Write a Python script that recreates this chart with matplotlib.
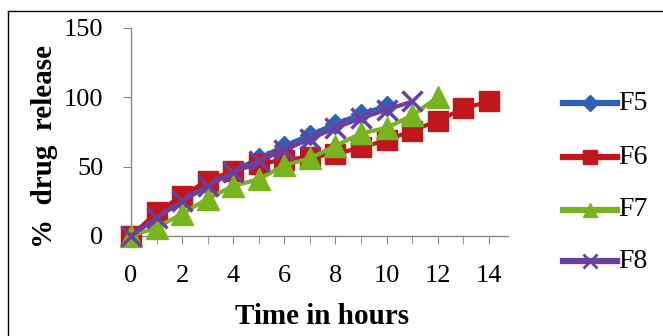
import matplotlib
matplotlib.use("Agg")
import matplotlib.pyplot as plt
from matplotlib.lines import Line2D

t5 = [0, 1, 2, 3, 4, 5, 6, 7, 8, 9, 10]
f5 = [0, 14, 26, 37, 47, 56, 65, 73, 81, 88, 94]
t6 = [0, 1, 2, 3, 4, 5, 6, 7, 8, 9, 10, 11, 12, 13, 14]
f6 = [0, 17, 29, 40, 47, 52, 55, 57, 59, 64, 69, 76, 83, 92, 97]
t7 = [0, 1, 2, 3, 4, 5, 6, 7, 8, 9, 10, 11, 12]
f7 = [0, 6, 16, 27, 36, 41, 51, 56, 65, 74, 78, 87, 100]
t8 = [0, 1, 2, 3, 4, 5, 6, 7, 8, 9, 10, 11]
f8 = [0, 13, 25, 36, 46, 54, 62, 70, 78, 85, 91, 97]

labels = ["F5", "F6", "F7", "F8"]
colors = ["#2E62B8", "#C0171C", "#78B41E", "#6B3FA0"]
markers = ["D", "s", "^", "x"]
msizes = [10, 15, 16, 14]
leg_msizes = [8, 10, 10, 10]

W, H = 663, 336
fig = plt.figure(figsize=(W / 100, H / 100), dpi=100)
# figure frame (top and left edges visible)
fig.add_artist(Line2D([8 / W, 1], [1 - 11 / H, 1 - 11 / H], transform=fig.transFigure,
                      color="black", linewidth=1.0))
fig.add_artist(Line2D([8 / W, 8 / W], [0, 1 - 11 / H], transform=fig.transFigure,
                      color="black", linewidth=1.0))

ax = fig.add_axes([131 / W, 1 - 236 / H, (508 - 131) / W, (236 - 28) / H])
serif = "Liberation Serif"

series = [(t5, f5), (t6, f6), (t7, f7), (t8, f8)]
order = [1, 2, 0, 3]
for i in order:
    t, v = series[i]
    kw = dict(color=colors[i], marker=markers[i], markersize=msizes[i], linewidth=3,
              clip_on=False, zorder=3 + i)
    if markers[i] == "x":
        kw["markeredgewidth"] = 2.5
    else:
        kw["markeredgecolor"] = colors[i]
    ax.plot(t, v, **kw)

ax.set_xlim(0, 14.75)
ax.set_ylim(0, 150)
ax.set_xticks(range(0, 15, 2))
ax.set_xticks(range(0, 15), minor=True)
ax.set_yticks([0, 50, 100, 150])
for s in ["top", "right"]:
    ax.spines[s].set_visible(False)
for s in ["left", "bottom"]:
    ax.spines[s].set_color("#888888")
    ax.spines[s].set_linewidth(1.0)
ax.tick_params(axis="both", which="both", color="#888888", direction="out", length=6)
ax.tick_params(axis="x", pad=15)
ax.tick_params(axis="y", pad=14)
for lab in ax.get_xticklabels() + ax.get_yticklabels():
    lab.set_fontfamily(serif)
    lab.set_fontsize(19)

fig.text(322 / W, 1 - 317 / H, "Time in hours", fontfamily=serif, fontsize=21,
         fontweight="bold", ha="center", va="center")
fig.text(45 / W, 1 - 146 / H, "%  drug  release", fontfamily=serif, fontsize=21,
         fontweight="bold", ha="center", va="center", rotation=90)

# legend drawn in figure pixel coordinates
leg_y = [103, 157, 210, 261]
for i in range(4):
    y = 1 - leg_y[i] / H
    kw = dict(color=colors[i], linewidth=4.5, transform=fig.transFigure)
    fig.add_artist(Line2D([563 / W, 617 / W], [y, y], **kw))
    mk = dict(color=colors[i], marker=markers[i], markersize=leg_msizes[i], linestyle="none",
              transform=fig.transFigure)
    if markers[i] == "x":
        mk["markeredgewidth"] = 2.0
    fig.add_artist(Line2D([590 / W], [y], **mk))
    fig.text(618 / W, y, labels[i], fontfamily=serif, fontsize=20, ha="left", va="center")

fig.savefig("out.png", dpi=100)
